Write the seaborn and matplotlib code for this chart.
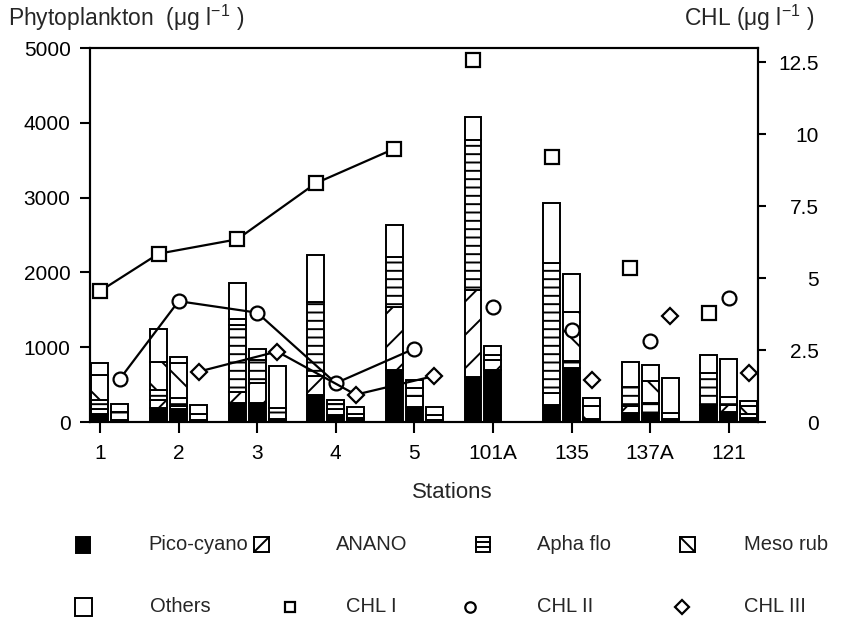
import numpy as np
import pandas as pd
import matplotlib
matplotlib.use("Agg")
import matplotlib.pyplot as plt
from matplotlib.patches import Rectangle
from matplotlib.lines import Line2D
import seaborn as sns

# ---------------------------------------------------------------------------
# Data
# ---------------------------------------------------------------------------
stations = ["1", "2", "3", "4", "5", "101A", "135", "137A", "121"]
depths = ["I", "II", "III"]
groups = ["Pico-cyano", "ANANO", "Apha flo", "Meso rub", "Others"]

# Phytoplankton biomass (µg l-1) by group, depth I
pico_I = [110, 190, 250, 360, 695, 600, 230, 120, 230]
anano_I = [60, 100, 150, 250, 845, 1170, 160, 100, 0]
apha_I = [130, 140, 900, 1000, 660, 2000, 1740, 250, 420]
meso_I = [330, 370, 80, 0, 0, 0, 0, 0, 0]
others_I = [160, 445, 480, 620, 430, 310, 800, 330, 245]

# depth II
pico_II = [30, 175, 250, 100, 200, 700, 720, 120, 130]
anano_II = [0, 40, 270, 80, 150, 130, 0, 0, 100]
apha_II = [100, 110, 310, 60, 110, 70, 100, 130, 100]
meso_II = [0, 460, 0, 0, 0, 0, 650, 300, 0]
others_II = [110, 85, 145, 60, 100, 115, 510, 210, 510]

# depth III
pico_III = [0, 30, 40, 50, 30, 0, 40, 40, 50]
anano_III = [0, 0, 0, 0, 0, 0, 0, 0, 0]
apha_III = [0, 80, 150, 60, 70, 0, 0, 80, 60]
meso_III = [0, 0, 0, 0, 0, 0, 180, 0, 100]
others_III = [0, 120, 560, 90, 100, 0, 100, 470, 70]

# Chlorophyll (µg l-1) at the three depths
chl_I = [4.55, 5.85, 6.35, 8.3, 9.5, 12.6, 9.2, 5.35, 3.8]
chl_II = [1.5, 4.2, 3.8, 1.35, 2.55, 4.0, 3.2, 2.8, 4.3]
chl_III = [np.nan, 1.75, 2.45, 0.95, 1.6, np.nan, 1.45, 3.7, 1.7]

# number of stations joined by lines (the transect 1-5)
n_linked = 5

biomass = {
    "I": [pico_I, anano_I, apha_I, meso_I, others_I],
    "II": [pico_II, anano_II, apha_II, meso_II, others_II],
    "III": [pico_III, anano_III, apha_III, meso_III, others_III],
}
rows = []
for d in depths:
    for g, vals in zip(groups, biomass[d]):
        for s, v in zip(stations, vals):
            rows.append({"station": s, "depth": d, "group": g, "value": v})
df = pd.DataFrame(rows)

# ---------------------------------------------------------------------------
# Style
# ---------------------------------------------------------------------------
sns.set_theme(style="ticks")
plt.rcParams["font.family"] = ["Liberation Sans", "DejaVu Sans"]
plt.rcParams["mathtext.fontset"] = "custom"
plt.rcParams["mathtext.rm"] = "Liberation Sans"
plt.rcParams["mathtext.it"] = "Liberation Sans"
plt.rcParams["hatch.linewidth"] = 1.4
plt.rcParams["axes.linewidth"] = 1.5

FS = 15
W, H = 844, 632

fig = plt.figure(figsize=(W / 100, H / 100), dpi=100)
fig.patch.set_facecolor("white")
ax = fig.add_axes([90 / W, 1 - 422 / H, (758 - 90) / W, (422 - 48) / H])
ax2 = ax.twinx()

styles = {
    "Pico-cyano": dict(facecolor="black", hatch=None),
    "ANANO": dict(facecolor="white", hatch="/"),
    "Apha flo": dict(facecolor="white", hatch="--"),
    "Meso rub": dict(facecolor="white", hatch="\\"),
    "Others": dict(facecolor="white", hatch=None),
}

bar_w = 0.216
slot = 0.254
# station 1 has no third depth, its two bars start at the station tick
slot_shift = [1, 0, 0, 0, 0, 0, 0, 0, 0]

xpos = np.arange(len(stations))

for di, d in enumerate(depths):
    sub = df[df.depth == d]
    offs = np.array([(di - 1 + sh) * slot for sh in slot_shift])
    bottom = np.zeros(len(stations))
    for g in groups:
        vals = sub[sub.group == g].set_index("station").loc[stations, "value"].to_numpy(float)
        keep = vals > 0
        ax.bar(xpos[keep] + offs[keep], vals[keep], width=bar_w, bottom=bottom[keep],
               edgecolor="black", linewidth=1.4, zorder=2, **styles[g])
        bottom += vals

# Chlorophyll markers
mk = {
    "I": dict(marker="s", ms=9.5),
    "II": dict(marker="o", ms=10),
    "III": dict(marker="D", ms=8),
}
chl = {"I": chl_I, "II": chl_II, "III": chl_III}
for di, d in enumerate(depths):
    offs = np.array([(di - 1 + sh) * slot for sh in slot_shift])
    xs = xpos + offs
    ys = np.array(chl[d], dtype=float)
    linked = pd.DataFrame({"x": xs[:n_linked], "y": ys[:n_linked]}).dropna()
    sns.lineplot(data=linked, x="x", y="y", ax=ax2, color="black", linewidth=1.6,
                 marker=mk[d]["marker"], markersize=mk[d]["ms"],
                 markerfacecolor="white", markeredgecolor="black",
                 markeredgewidth=1.6, zorder=5)
    rest = pd.DataFrame({"x": xs[n_linked:], "y": ys[n_linked:]}).dropna()
    ax2.plot(rest["x"], rest["y"], linestyle="none", marker=mk[d]["marker"],
             markersize=mk[d]["ms"], markerfacecolor="white",
             markeredgecolor="black", markeredgewidth=1.6, zorder=5)

# ---------------------------------------------------------------------------
# Axes
# ---------------------------------------------------------------------------
ax.set_xlim(-0.127, 8.372)
ax.set_ylim(0, 5000)
ax2.set_ylim(0, 13)
ax.set_xticks(xpos)
ax.set_xticklabels(stations, fontsize=FS)
ax.set_yticks([0, 1000, 2000, 3000, 4000, 5000])
ax.set_yticklabels(["0", "1000", "2000", "3000", "4000", "5000"], fontsize=FS)
ax2.set_yticks([0, 2.5, 5, 7.5, 10, 12.5])
ax2.set_yticklabels(["0", "2.5", "5", "7.5", "10", "12.5"], fontsize=FS)
for lab in ax2.get_yticklabels():
    lab.set_horizontalalignment("right")

ax.tick_params(axis="x", direction="out", length=8, width=1.5, pad=8, colors="black")
ax.tick_params(axis="y", direction="out", length=7, width=1.5, pad=7, colors="black")
ax2.tick_params(axis="y", direction="out", length=6, width=1.5, pad=38, colors="black")
ax.set_xlabel("")
ax.set_ylabel("")
ax2.set_xlabel("")
ax2.set_ylabel("")
for a in (ax, ax2):
    for sp in a.spines.values():
        sp.set_visible(True)
        sp.set_color("black")
        sp.set_linewidth(1.5)
ax.set_facecolor("white")


def fx(x):
    return x / W


def fy(y):
    return 1 - y / H


fig.text(fx(8), fy(18), "Phytoplankton  (μg l$^{-1}$ )", fontsize=16.5, va="center", ha="left")
fig.text(fx(815), fy(18), "CHL (μg l$^{-1}$ )", fontsize=16.5, va="center", ha="right")
fig.text(fx(452), fy(492), "Stations", fontsize=16, va="center", ha="center")

# ---------------------------------------------------------------------------
# Legend, laid out in two rows under the plot
# ---------------------------------------------------------------------------
def box(x0, y0, x1, y1, face="white"):
    fig.add_artist(Rectangle((fx(x0), fy(y1)), fx(x1) - fx(x0), fy(y0) - fy(y1),
                             transform=fig.transFigure, facecolor=face,
                             edgecolor="black", linewidth=1.4))


def seg(xa, ya, xb, yb):
    fig.add_artist(Line2D([fx(xa), fx(xb)], [fy(ya), fy(yb)], transform=fig.transFigure,
                          color="black", linewidth=1.4))


def mark(x, y, marker, ms):
    fig.add_artist(Line2D([fx(x)], [fy(y)], transform=fig.transFigure, linestyle="none",
                          marker=marker, markersize=ms, markerfacecolor="white",
                          markeredgecolor="black", markeredgewidth=1.6))


LFS = 14.5
r1, r2 = 545, 607
# Pico-cyano
box(76, 537, 90, 553, face="black")
fig.text(fx(148), fy(r1), "Pico-cyano", fontsize=LFS, va="center", ha="left")
# ANANO
box(254, 537, 269, 552)
seg(254, 552, 269, 537)
fig.text(fx(336), fy(r1), "ANANO", fontsize=LFS, va="center", ha="left")
# Apha flo
box(476, 537, 490, 552)
seg(476, 542, 490, 542)
seg(476, 547, 490, 547)
fig.text(fx(537), fy(r1), "Apha flo", fontsize=LFS, va="center", ha="left")
# Meso rub
box(680, 537, 695, 552)
seg(680, 537, 695, 552)
fig.text(fx(744), fy(r1), "Meso rub", fontsize=LFS, va="center", ha="left")
# Others
box(75, 598, 92, 616)
fig.text(fx(150), fy(r2), "Others", fontsize=LFS, va="center", ha="left")
# CHL markers
mark(290, r2, "s", 7.5)
fig.text(fx(346), fy(r2), "CHL I", fontsize=LFS, va="center", ha="left")
mark(470, r2, "o", 7.5)
fig.text(fx(537), fy(r2), "CHL II", fontsize=LFS, va="center", ha="left")
mark(682, r2, "D", 7)
fig.text(fx(744), fy(r2), "CHL III", fontsize=LFS, va="center", ha="left")

fig.savefig("out.png", dpi=100, facecolor="white")
